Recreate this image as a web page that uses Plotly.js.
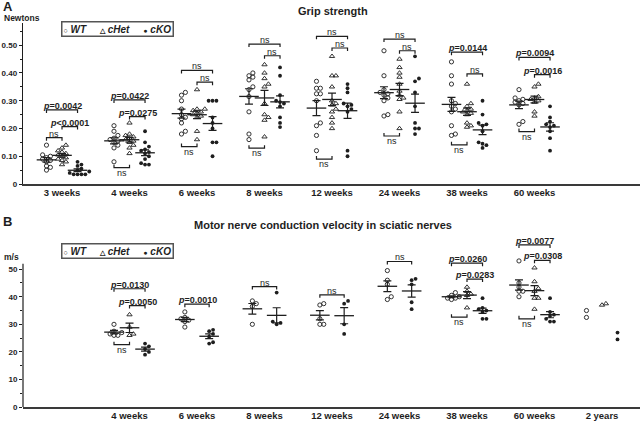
<!DOCTYPE html>
<html>
<head>
<meta charset="utf-8">
<script src="https://cdn.plot.ly/plotly-3.0.1.min.js"></script>
<style>
  html, body { margin: 0; padding: 0; background: #fff; }
  #myPlot { width: 640px; height: 422px; }
</style>
</head>
<body>
<div id="myPlot"></div>
<script>
// time points shared by both panels
const slots = ['3 weeks', '4 weeks', '6 weeks', '8 weeks', '12 weeks', '24 weeks', '38 weeks', '60 weeks', '2 years'];
const groups = ['WT', 'cHet', 'cKO'];

// A: grip strength (Newtons), one list per time point
const gripWT = [
  [0.14, 0.105, 0.10, 0.095, 0.09, 0.085, 0.08, 0.065, 0.06, 0.05],
  [0.21, 0.19, 0.175, 0.165, 0.16, 0.155, 0.15, 0.14, 0.13, 0.08],
  [0.33, 0.32, 0.30, 0.27, 0.25, 0.24, 0.235, 0.22, 0.19, 0.18],
  [0.40, 0.39, 0.385, 0.375, 0.35, 0.34, 0.315, 0.26, 0.18, 0.16],
  [0.37, 0.345, 0.345, 0.325, 0.325, 0.30, 0.22, 0.21, 0.175, 0.12],
  [0.48, 0.39, 0.34, 0.33, 0.325, 0.32, 0.31, 0.30, 0.25, 0.245],
  [0.44, 0.39, 0.36, 0.30, 0.29, 0.28, 0.27, 0.26, 0.21, 0.18, 0.175],
  [0.34, 0.31, 0.305, 0.30, 0.295, 0.29, 0.285, 0.225, 0.215],
  []
];
const gripHet = [
  [0.14, 0.13, 0.12, 0.115, 0.11, 0.105, 0.10, 0.095, 0.09, 0.085, 0.08, 0.07],
  [0.22, 0.18, 0.175, 0.17, 0.165, 0.16, 0.155, 0.15, 0.14, 0.13, 0.11],
  [0.34, 0.27, 0.27, 0.265, 0.26, 0.255, 0.25, 0.245, 0.24, 0.19, 0.16],
  [0.43, 0.40, 0.38, 0.36, 0.35, 0.29, 0.25, 0.24, 0.23, 0.17],
  [0.46, 0.39, 0.39, 0.35, 0.30, 0.29, 0.285, 0.27, 0.26, 0.24, 0.22, 0.20],
  [0.45, 0.42, 0.40, 0.385, 0.36, 0.335, 0.32, 0.31, 0.305, 0.26, 0.20],
  [0.36, 0.29, 0.28, 0.27, 0.265, 0.26, 0.255, 0.25, 0.22, 0.21, 0.205],
  [0.36, 0.35, 0.315, 0.31, 0.305, 0.30, 0.295, 0.26, 0.245],
  []
];
const gripKO = [
  [0.08, 0.07, 0.065, 0.055, 0.05, 0.045, 0.04, 0.035, 0.035, 0.035, 0.035],
  [0.19, 0.15, 0.135, 0.125, 0.12, 0.115, 0.11, 0.10, 0.09, 0.075, 0.07, 0.07],
  [0.30, 0.30, 0.30, 0.24, 0.22, 0.20, 0.15, 0.15, 0.10],
  [0.42, 0.39, 0.32, 0.30, 0.295, 0.29, 0.28, 0.24, 0.22, 0.205],
  [0.36, 0.345, 0.33, 0.29, 0.285, 0.28, 0.27, 0.26, 0.12, 0.10],
  [0.46, 0.38, 0.37, 0.33, 0.28, 0.22, 0.20, 0.20, 0.18],
  [0.30, 0.25, 0.22, 0.215, 0.21, 0.19, 0.15, 0.145, 0.14, 0.13],
  [0.28, 0.24, 0.225, 0.215, 0.21, 0.205, 0.19, 0.165, 0.12],
  []
];

// B: motor nerve conduction velocity (m/s)
const ncvWT = [
  [], [30, 27.5, 27, 26.5, 26, 26], [34.5, 32.5, 32, 31.5, 31, 29], [38.5, 37.5, 36.5, 30],
  [37.5, 37, 32, 30, 30], [49.5, 46, 44.5, 40, 39], [41.5, 40.5, 40, 39.5, 39.5, 39],
  [53, 45, 43.5, 42, 42, 40], [35, 32.5]
];
const ncvHet = [
  [], [33.5, 29, 26.5, 26], [], [], [], [], [43.5, 42, 41, 40.5, 36],
  [50.5, 45.5, 43, 42, 39.5, 39.5, 35.5], [37, 37.5]
];
const ncvKO = [
  [], [23, 22, 21, 20, 19], [28, 27.5, 26.5, 25.5, 23.5, 23], [41.5, 31, 30.5, 30],
  [38.5, 37.5, 30, 26.5], [46.5, 46, 44.5, 38, 35.5], [39.5, 36, 35.5, 35, 34.5, 32, 32],
  [39.5, 34.5, 33.5, 33, 32, 31, 31], [27, 24.5]
];

// comparisons: [slot, group a, group b, label, bracket height, side]
const gripStats = [
  [0, 'WT', 'cHet', 'ns', 0.167, 'up'], [0, 'WT', 'cKO', 'p=0.0042', 0.267, 'up'], [0, 'cHet', 'cKO', 'p<0.0001', 0.207, 'up'],
  [1, 'WT', 'cKO', 'p=0.0422', 0.303, 'up'], [1, 'cHet', 'cKO', 'p=0.0275', 0.243, 'up'], [1, 'WT', 'cHet', 'ns', 0.059, 'down'],
  [2, 'WT', 'cKO', 'ns', 0.409, 'up'], [2, 'cHet', 'cKO', 'ns', 0.367, 'up'], [2, 'WT', 'cHet', 'ns', 0.135, 'down'],
  [3, 'WT', 'cKO', 'ns', 0.504, 'up'], [3, 'cHet', 'cKO', 'ns', 0.462, 'up'], [3, 'WT', 'cHet', 'ns', 0.129, 'down'],
  [4, 'WT', 'cKO', 'ns', 0.532, 'up'], [4, 'cHet', 'cKO', 'ns', 0.490, 'up'], [4, 'WT', 'cHet', 'ns', 0.090, 'down'],
  [5, 'WT', 'cKO', 'ns', 0.522, 'up'], [5, 'cHet', 'cKO', 'ns', 0.480, 'up'], [5, 'WT', 'cHet', 'ns', 0.173, 'down'],
  [6, 'WT', 'cKO', 'p=0.0144', 0.475, 'up'], [6, 'cHet', 'cKO', 'ns', 0.397, 'up'], [6, 'WT', 'cHet', 'ns', 0.141, 'down'],
  [7, 'WT', 'cKO', 'p=0.0094', 0.456, 'up'], [7, 'cHet', 'cKO', 'p=0.0016', 0.394, 'up'], [7, 'WT', 'cHet', 'ns', 0.189, 'down']
];
const ncvStats = [
  [1, 'WT', 'cKO', 'p=0.0130', 42.9, 'up'], [1, 'cHet', 'cKO', 'p=0.0050', 36.8, 'up'], [1, 'WT', 'cHet', 'ns', 22.6, 'down'],
  [2, 'WT', 'cKO', 'p=0.0010', 37.3, 'up'],
  [3, 'WT', 'cKO', 'ns', 43.7, 'up'],
  [4, 'WT', 'cKO', 'ns', 40.7, 'up'],
  [5, 'WT', 'cKO', 'ns', 52.8, 'up'],
  [6, 'WT', 'cKO', 'p=0.0260', 52.2, 'up'], [6, 'cHet', 'cKO', 'p=0.0283', 46.4, 'up'], [6, 'WT', 'cHet', 'ns', 32.6, 'down'],
  [7, 'WT', 'cKO', 'p=0.0077', 58.8, 'up'], [7, 'cHet', 'cKO', 'p=0.0308', 53.2, 'up'], [7, 'WT', 'cHet', 'ns', 32.0, 'down']
];

const ink = '#1e1e1e';
const fontFam = 'Liberation Sans, Arial, sans-serif';
const xPx = 67.5;          // px per category slot
const markers = {
  WT: { symbol: 'circle-open', size: 4.2, line: { width: 0.9, color: ink }, color: ink },
  cHet: { symbol: 'triangle-up-open', size: 4.6, line: { width: 0.9, color: ink }, color: ink },
  cKO: { symbol: 'circle', size: 3.8, color: ink }
};

function groupOffsets(sets, s) {
  const present = groups.filter((g, k) => sets[k][s].length > 0);
  const off = {};
  const steps = present.length === 3 ? [-0.23, 0, 0.23] : [-0.18, 0.18];
  present.forEach((g, k) => { off[g] = present.length === 1 ? 0 : steps[k]; });
  return off;
}

// simple beeswarm so points with similar values sit side by side
function swarm(vals, yPx) {
  const order = vals.map((v, i) => i).sort((a, b) => vals[a] - vals[b]);
  const placed = [];
  const off = new Array(vals.length).fill(0);
  order.forEach(i => {
    const yi = vals[i] * yPx;
    for (const c of [0, 1, -1, 2, -2, 3, -3]) {
      const ox = c * 3.9;
      if (placed.every(p => Math.hypot(p.x - ox, p.y - yi) >= 3.7)) {
        placed.push({ x: ox, y: yi });
        off[i] = ox / xPx;
        break;
      }
    }
  });
  return off;
}

function mean(a) { return a.reduce((s, v) => s + v, 0) / a.length; }
function sem(a) {
  const m = mean(a);
  const sd = Math.sqrt(a.reduce((s, v) => s + (v - m) * (v - m), 0) / (a.length - 1));
  return sd / Math.sqrt(a.length);
}

const traces = [];
const shapes = [];
const annotations = [];

function buildPanel(sets, stats, xa, ya, yPx, legH) {
  groups.forEach((g, k) => {
    const px = [], py = [], mx = [], my = [], me = [];
    sets[k].forEach((vals, s) => {
      if (!vals.length) return;
      const base = s + groupOffsets(sets, s)[g];
      const jit = swarm(vals, yPx);
      vals.forEach((v, i) => { px.push(base + jit[i]); py.push(v); });
      if (vals.length >= 3) { mx.push(base); my.push(mean(vals)); me.push(sem(vals)); }
    });
    traces.push({
      type: 'scatter', mode: 'markers', x: px, y: py, xaxis: xa, yaxis: ya,
      name: g, showlegend: false, marker: markers[g], cliponaxis: false, hoverinfo: 'y'
    });
    traces.push({
      type: 'scatter', mode: 'markers', x: mx, y: my, xaxis: xa, yaxis: ya,
      showlegend: false, hoverinfo: 'y',
      marker: { symbol: 'line-ew', size: 14, line: { width: 1.3, color: ink } },
      error_y: { type: 'data', array: me, visible: true, width: 4, thickness: 1.2, color: ink }
    });
  });

  const leg = legH / yPx;
  stats.forEach(([s, a, b, label, y, side]) => {
    const off = groupOffsets(sets, s);
    const x1 = s + off[a], x2 = s + off[b];
    const yl = side === 'up' ? y - leg : y + leg;
    shapes.push({
      type: 'path', xref: xa, yref: ya,
      path: `M ${x1},${yl} L ${x1},${y} L ${x2},${y} L ${x2},${yl}`,
      line: { color: ink, width: 1.2 }
    });
    const isP = label.startsWith('p');
    annotations.push({
      xref: xa, yref: ya, x: (x1 + x2) / 2, y: y,
      yanchor: side === 'up' ? 'bottom' : 'top', xanchor: 'center',
      yshift: side === 'up' ? -2 : 1,
      showarrow: false, borderpad: 0,
      text: isP ? '<i>p</i>' + label.slice(1) : label,
      font: { family: fontFam, size: 9, color: ink, weight: isP ? 'bold' : 'normal' }
    });
  });
}

buildPanel([gripWT, gripHet, gripKO], gripStats, 'x', 'y', 277.6, 3);
buildPanel([ncvWT, ncvHet, ncvKO], ncvStats, 'x2', 'y2', 2.76, 3);

// y axis line of panel B stops at 52 m/s
shapes.push({ type: 'line', xref: 'paper', yref: 'y2', x0: 0, x1: 0, y0: 0, y1: 52, line: { color: ink, width: 1.2 } });

function textNote(text, x, y, size, extra) {
  annotations.push(Object.assign({
    xref: 'paper', yref: 'paper', x: x, y: y, showarrow: false, text: text,
    font: { family: fontFam, size: size, color: ink, weight: 'bold' }
  }, extra || {}));
}

const legendText = '<span style="font-size:7px">○</span>\u00a0<i>WT</i>\u00a0\u00a0\u00a0\u00a0\u00a0' +
  '<span style="font-size:7px">△</span>\u00a0<i>cHet</i>\u00a0\u00a0\u00a0\u00a0\u00a0' +
  '<span style="font-size:7px">●</span>\u00a0<i>cKO</i>';

// plot area: x from 23px (width 617), y from 23px to 407px (height 384)
textNote('A', -0.036, 1.044, 13, { xanchor: 'left', yanchor: 'middle' });
textNote('B', -0.036, 0.482, 13, { xanchor: 'left', yanchor: 'middle' });
textNote('Grip strength', 0.503, 1.031, 11, { xanchor: 'center', yanchor: 'middle' });
textNote('Motor nerve conduction velocity in sciatic nerves', 0.486, 0.474, 11, { xanchor: 'center', yanchor: 'middle' });
textNote('Newtons', -0.034, 1.013, 8.5, { xanchor: 'left', yanchor: 'middle' });
textNote('m/s', -0.034, 0.391, 8.5, { xanchor: 'left', yanchor: 'middle' });
textNote(legendText, 0.153, 0.984, 10, { xanchor: 'center', yanchor: 'middle', bordercolor: '#555', borderwidth: 1.5, borderpad: 1, bgcolor: '#fff' });
textNote(legendText, 0.153, 0.406, 10, { xanchor: 'center', yanchor: 'middle', bordercolor: '#555', borderwidth: 1.5, borderpad: 1, bgcolor: '#fff' });

const tickFont = { family: fontFam, size: 9.5, color: ink, weight: 'bold' };
const yTickFont = { family: fontFam, size: 8, color: ink, weight: 'bold' };
const xBase = {
  range: [-0.578, 8.563], showline: true, linewidth: 2, linecolor: '#3a3a3a',
  ticks: '', showgrid: false, zeroline: false, tickfont: tickFont, automargin: false,
  ticklabelstandoff: -1
};

const layout = {
  width: 640, height: 422,
  margin: { l: 23, r: 0, t: 23, b: 15 },
  paper_bgcolor: '#fff', plot_bgcolor: 'rgba(0,0,0,0)',
  showlegend: false,
  xaxis: Object.assign({}, xBase, { anchor: 'y', tickvals: [0, 1, 2, 3, 4, 5, 6, 7], ticktext: slots.slice(0, 8) }),
  xaxis2: Object.assign({}, xBase, { anchor: 'y2', tickvals: [1, 2, 3, 4, 5, 6, 7, 8], ticktext: slots.slice(1) }),
  yaxis: {
    domain: [0.5807, 1], range: [0, 0.58], anchor: 'x',
    showline: true, linewidth: 1.2, linecolor: ink, showgrid: false, zeroline: false,
    ticks: 'outside', ticklen: 3, tickwidth: 1, tickcolor: ink, ticklabelstandoff: 0,
    tickvals: [0, 0.1, 0.2, 0.3, 0.4, 0.5], ticktext: ['0', '0.10', '0.20', '0.30', '0.40', '0.50'],
    minor: { ticks: 'outside', ticklen: 2, tickwidth: 1, tickcolor: ink, tickvals: [0.05, 0.15, 0.25, 0.35, 0.45, 0.55] },
    tickfont: yTickFont, automargin: false
  },
  yaxis2: {
    domain: [0, 0.445], range: [0, 62], anchor: 'x2',
    showline: false, showgrid: false, zeroline: false,
    ticks: 'outside', ticklen: 3, tickwidth: 1, tickcolor: ink, ticklabelstandoff: 0,
    tickvals: [0, 10, 20, 30, 40, 50],
    minor: { ticks: 'outside', ticklen: 2, tickwidth: 1, tickcolor: ink, tickvals: [5, 15, 25, 35, 45] },
    tickfont: yTickFont, automargin: false
  },
  shapes: shapes,
  annotations: annotations
};

Plotly.newPlot('myPlot', traces, layout, { displayModeBar: false, staticPlot: true });
</script>
</body>
</html>
